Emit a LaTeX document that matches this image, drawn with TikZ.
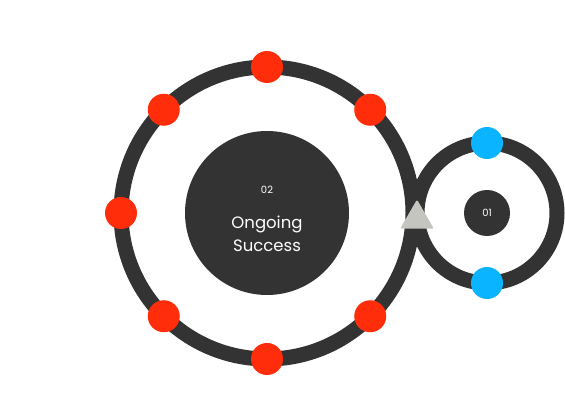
\documentclass[tikz,border=0pt]{standalone}
\usepackage{fontspec}
\setmainfont{Poppins}
\usepackage{tikz}
\usetikzlibrary{positioning,chains,shapes.geometric}
\definecolor{ringdark}{HTML}{333333}
\definecolor{dotred}{HTML}{FF2D0A}
\definecolor{dotblue}{HTML}{0AB4FF}
\definecolor{markergray}{HTML}{C4C5BF}
\tikzset{
	success cycle/.style={
		x=1pt,y=1pt,
		node distance=6pt,
		ring/.style={
			circle,
			draw=ringdark,
			line width=15pt,
			outer sep=0pt,
			inner sep=0pt
		},
		hub/.style={
			circle,
			fill=ringdark,
			inner sep=0pt,
			text=white
		},
		red dots/.style 2 args={% chain name, radius
			every node/.style={dot,fill=dotred,on chain},
			start chain=##1 placed {at=(\tikzchaincount*45:##2)}
		}
	},
	dot/.style={
		circle,
		inner sep=0pt,
		minimum size=32pt
	},
	marker/.style={
		regular polygon,
		regular polygon sides=3,
		fill=markergray,
		rounded corners=2pt,
		inner sep=0pt,
		minimum size=39pt
	}
}

\begin{document}
\begin{tikzpicture}[success cycle]
		\useasboundingbox (0,0) rectangle (565,409);
		% rings
		\node[ring,minimum size=292pt] (outer ring) at (267,196) {};
		\node[ring,minimum size=140pt] (inner ring) at (487,196) {};
		% hubs
		\node[hub,minimum size=164pt] (hub two) at (outer ring.center) {};
		\node[hub,minimum size=46pt,font=\fontsize{10}{10}\selectfont] (hub one) at (inner ring.center) {01};
		\node[text=white,align=center,font=\fontsize{16.5}{23}\selectfont] (title) at (267,175) {Ongoing\\Success};
		\node[text=white,font=\fontsize{10}{10}\selectfont,above=16pt of title] (step two) {02};
		% dots on the big ring
		\begin{scope}[shift={(outer ring.center)},red dots={reddot}{146}]
			\node {};
			\node {};
			\node {};
			\node {};
			\node {};
			\node {};
			\node {};
		\end{scope}
		% dots on the small ring
		\node[dot,fill=dotblue] (blue top) at (inner ring.north) {};
		\node[dot,fill=dotblue] (blue bottom) at (inner ring.south) {};
		\node[marker] (junction) at (417,190) {};
	\end{tikzpicture}
\end{document}
